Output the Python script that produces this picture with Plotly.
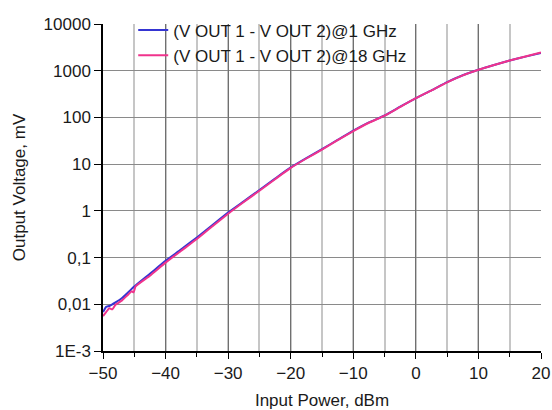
import plotly.graph_objects as go

# Input power (dBm) and output voltage (mV)
x_1ghz = [-50, -49.5, -49, -48, -47, -46, -45, -42.5, -40, -37.5, -35, -32.5, -30, -27.5, -25,
          -22.5, -20, -17.5, -15, -12.5, -10, -7.5, -5, -2.5, 0, 2.5, 5, 7.5, 10, 12.5, 15, 17.5, 20]
v_1ghz = [0.0068, 0.0088, 0.0092, 0.011, 0.0135, 0.018, 0.024, 0.045, 0.085, 0.15, 0.27, 0.5, 0.92,
          1.6, 2.8, 4.9, 8.5, 13.5, 21, 33, 52, 78, 110, 170, 260, 380, 570, 800, 1050, 1330, 1650,
          2000, 2400]

x_18ghz = [-50, -49.5, -49, -48.5, -48, -47, -46, -45.4, -45.1, -44.8, -42.5, -40, -37.5, -35, -32.5,
           -30, -27.5, -25, -22.5, -20, -17.5, -15, -12.5, -10, -7.5, -5, -2.5, 0, 2.5, 5, 7.5, 10,
           12.5, 15, 17.5, 20]
v_18ghz = [0.0056, 0.0068, 0.0082, 0.0078, 0.0098, 0.012, 0.016, 0.019, 0.018, 0.024, 0.041, 0.078,
           0.14, 0.25, 0.47, 0.87, 1.55, 2.7, 4.75, 8.3, 13.2, 20.5, 32.5, 51, 77, 109, 168, 258, 378,
           565, 795, 1045, 1330, 1650, 2010, 2450]

x_ticks = [-50, -40, -30, -20, -10, 0, 10, 20]
y_tickvals = [0.001, 0.01, 0.1, 1, 10, 100, 1000, 10000]
y_ticktext = ["1E-3", "0,01", "0,1", "1", "10", "100", "1000", "10000"]
y_gridvals = [0.01, 0.1, 1, 10, 100, 1000]

fig = go.Figure()
fig.add_trace(go.Scatter(x=x_1ghz, y=v_1ghz, mode="lines",
                         name="(V OUT 1 - V OUT 2)@1 GHz",
                         line=dict(color="#3535d2", width=2, shape="spline", smoothing=0.5)))
fig.add_trace(go.Scatter(x=x_18ghz, y=v_18ghz, mode="lines",
                         name="(V OUT 1 - V OUT 2)@18 GHz",
                         line=dict(color="#f0338c", width=2, shape="spline", smoothing=0.5)))

font_family = "Liberation Sans, Arial, sans-serif"
txt = "#1a1a1a"

# white area behind the legend that hides the grid (as in the original)
fig.add_shape(type="rect", xref="paper", yref="paper", x0=0, x1=0.715, y0=0.875, y1=1.0,
              fillcolor="white", line=dict(width=0), layer="between")

fig.update_layout(
    width=552, height=410,
    margin=dict(l=103, r=11, t=24, b=59, autoexpand=False),
    paper_bgcolor="white", plot_bgcolor="white",
    font=dict(family=font_family, size=17, color=txt),
    showlegend=True,
    legend=dict(x=0.069, y=1.035, xanchor="left", yanchor="top",
                bgcolor="rgba(0,0,0,0)", borderwidth=0,
                font=dict(size=17, color=txt),
                tracegroupgap=0, itemwidth=30),
    xaxis=dict(range=[-50, 20], tickvals=x_ticks, automargin=False,
               showline=True, linecolor="black", linewidth=1.5,
               ticks="outside", ticklen=6, tickcolor="black",
               tickfont=dict(size=17),
               showgrid=True, gridcolor="#707070", gridwidth=1,
               minor=dict(dtick=5, showgrid=True, gridcolor="#c6c6c6", gridwidth=1.5,
                          ticks="outside", ticklen=4, tickcolor="black"),
               zeroline=False,
               title=dict(text="Input Power, dBm", font=dict(size=17), standoff=12)),
    yaxis=dict(type="log", range=[-3, 4], tickvals=y_tickvals, ticktext=y_ticktext,
               automargin=False,
               showline=True, linecolor="black", linewidth=1.5,
               ticks="outside", ticklen=7, tickcolor="black",
               tickfont=dict(size=17),
               showgrid=False,
               minor=dict(tickmode="array", tickvals=y_gridvals, showgrid=True,
                          gridcolor="#8a8a8a", gridwidth=1, ticks=""),
               zeroline=False,
               title=dict(text="Output Voltage, mV", font=dict(size=17), standoff=14)),
)

fig.write_html("out.html", config={"displayModeBar": False},
               post_script="document.body.style.margin='0';document.body.style.overflow='hidden';")
